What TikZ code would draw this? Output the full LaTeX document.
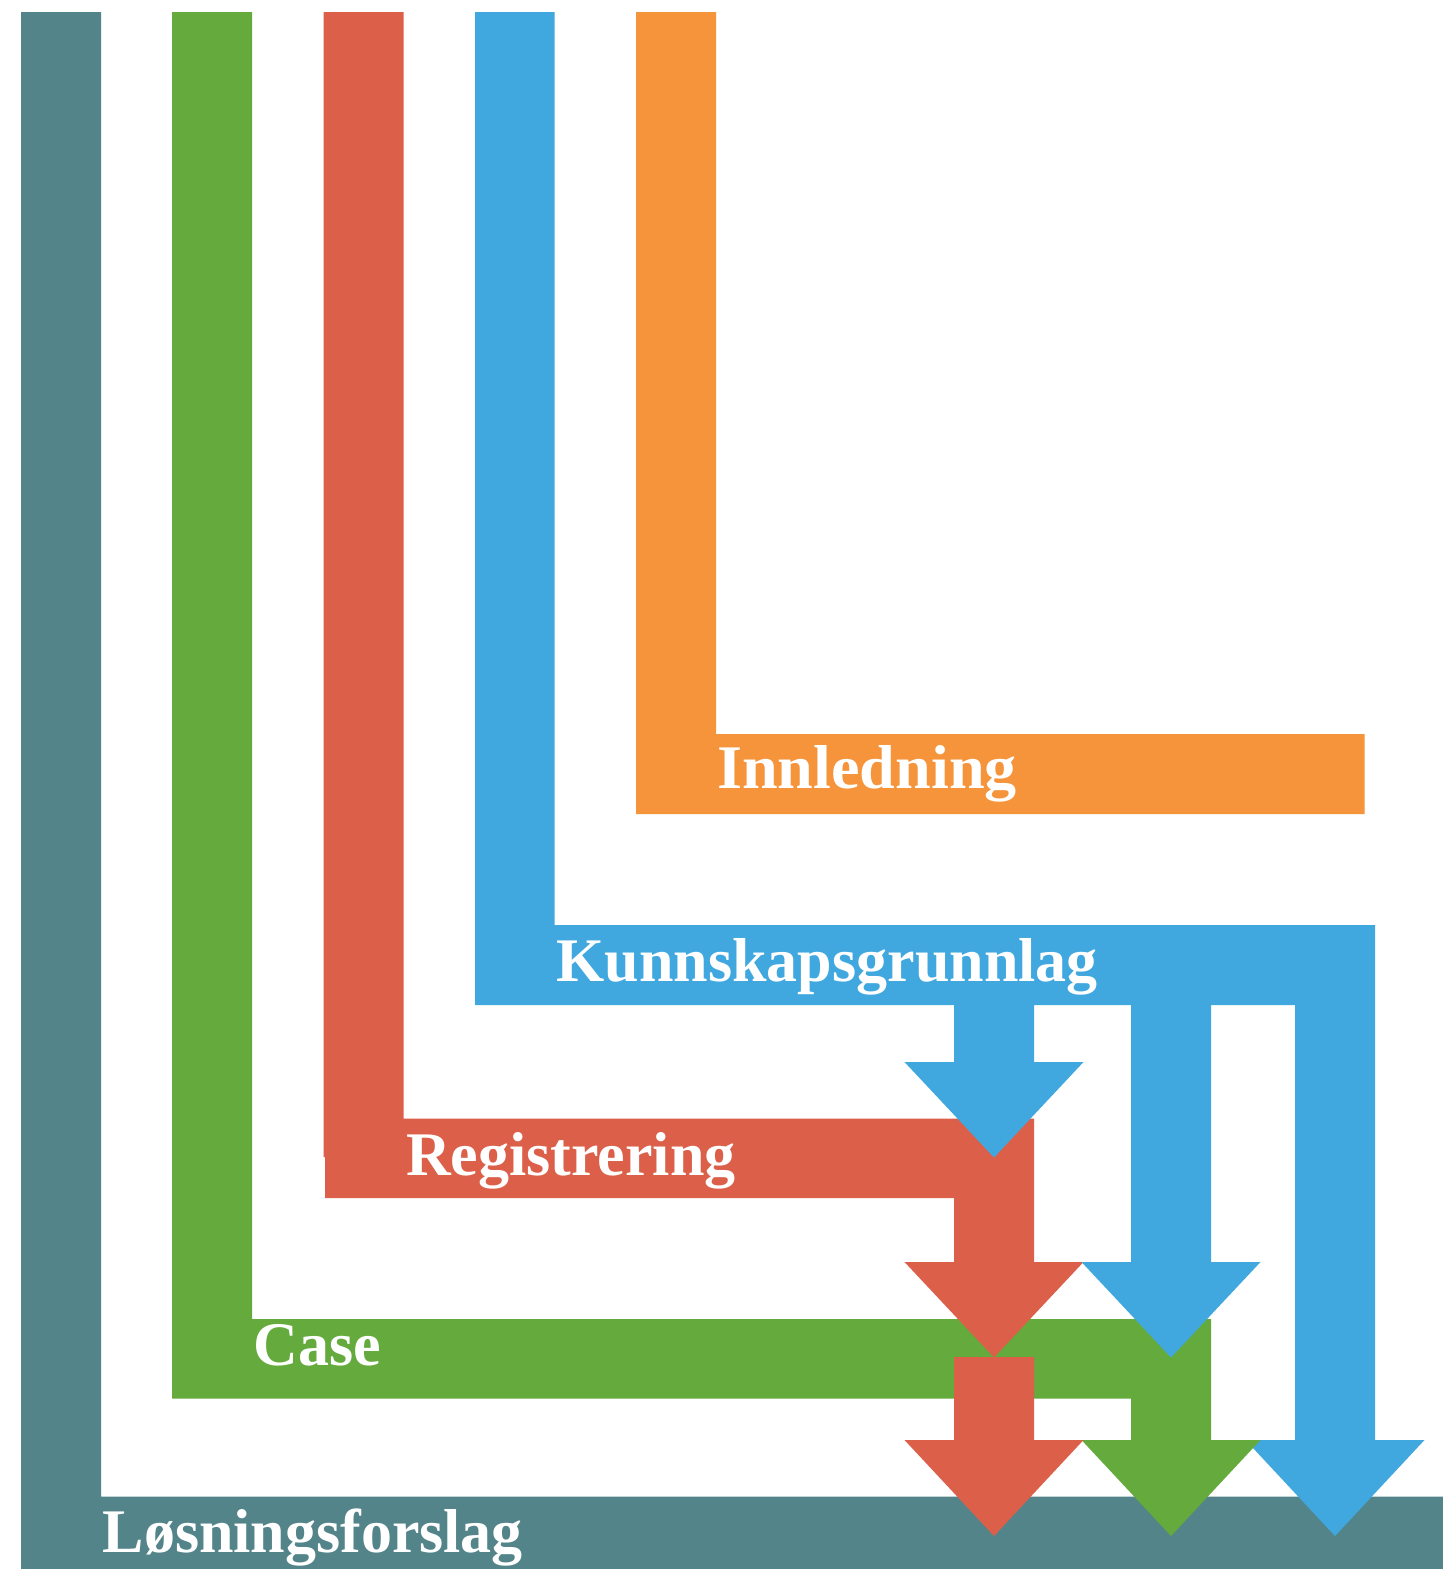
\documentclass[tikz,border=0pt]{standalone}
\usepackage{fontspec}
\setmainfont{Liberation Serif}
\definecolor{cteal}{HTML}{53848A}
\definecolor{cgreen}{HTML}{64AA3C}
\definecolor{cred}{HTML}{DC6049}
\definecolor{cblue}{HTML}{41A8DF}
\definecolor{corange}{HTML}{F5943A}
\tikzset{
  lbl/.style={text=white, font=\bfseries\fontsize{62}{70}\selectfont, inner sep=0pt, anchor=base west},
  band/.style={draw=none}
}
\begin{document}
\begin{tikzpicture}[x=1pt,y=-1pt]
\fill[white] (0,0) rectangle (1443,1569);
\useasboundingbox (0,0) rectangle (1443,1569);
% teal: Losningsforslag
\fill[cteal] (21,12) -- (101,12) -- (101,1496.5) -- (1443,1496.5) -- (1443,1569) -- (21,1569) -- cycle;
% orange: Innledning
\fill[corange] (636,12) -- (716,12) -- (716,734) -- (1364.5,734) -- (1364.5,814) -- (636,814) -- cycle;
% blue: Kunnskapsgrunnlag with right arrow
\fill[cblue] (475,12) -- (554.5,12) -- (554.5,925) -- (1375,925) -- (1375,1440) -- (1424.5,1440) -- (1335,1536) -- (1245.5,1440) -- (1295,1440) -- (1295,1005) -- (475,1005) -- cycle;
% green: Case with arrow
\fill[cgreen] (172,12) -- (252,12) -- (252,1319) -- (1211,1319) -- (1211,1440) -- (1260.5,1440) -- (1171,1536) -- (1081.5,1440) -- (1131,1440) -- (1131,1398.5) -- (172,1398.5) -- cycle;
% red: Registrering with arrow
\fill[cred] (323.5,12) -- (403.5,12) -- (403.5,1118.5) -- (1034,1118.5) -- (1034,1262) -- (1083.5,1262) -- (994,1357.5) -- (904.5,1262) -- (954,1262) -- (954,1198) -- (325,1198) -- (325,1157) -- (323.5,1157) -- cycle;
% red second arrow through Case
\fill[cred] (954,1357) -- (1034,1357) -- (1034,1440) -- (1083.5,1440) -- (994,1536) -- (904.5,1440) -- (954,1440) -- cycle;
% blue arrows
\fill[cblue] (954,1004) -- (1034,1004) -- (1034,1062) -- (1083.5,1062) -- (994,1157.5) -- (904.5,1062) -- (954,1062) -- cycle;
\fill[cblue] (1131,1004) -- (1211,1004) -- (1211,1262) -- (1260.5,1262) -- (1171,1357.5) -- (1081.5,1262) -- (1131,1262) -- cycle;
% labels
\node[lbl, xscale=1.035] (innl) at (717,788.7) {Innledning};
\node[lbl] (kunn) at (556.5,981.7) {Kunnskapsgrunnlag};
\node[lbl] (regi) at (406,1175) {Registrering};
\node[lbl] (case) at (253.5,1365) {Case};
\node[lbl] (losn) at (102.5,1552.7) {Løsningsforslag};
\end{tikzpicture}
\end{document}
